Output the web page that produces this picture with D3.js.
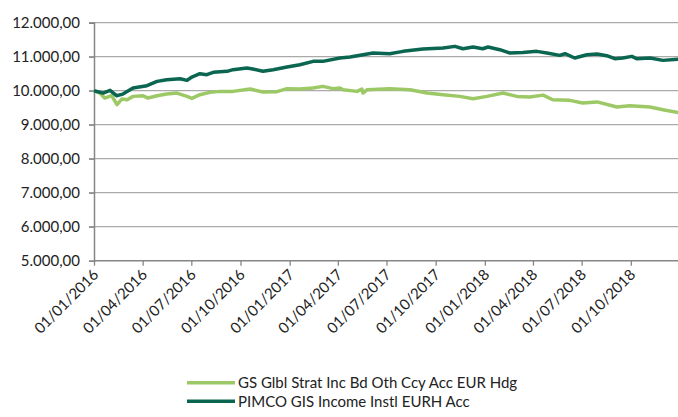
<!DOCTYPE html>
<html><head><meta charset="utf-8">
<script src="https://cdn.jsdelivr.net/npm/d3@7"></script>
<style>body{margin:0;background:#fff}svg{display:block}text{font-family:Lato,"Open Sans",sans-serif;fill:#222}</style>
</head><body><svg id="c" width="678" height="417"></svg>
<script>
const seriesNames = ["GS Glbl Strat Inc Bd Oth Ccy Acc EUR Hdg", "PIMCO GIS Income Instl EURH Acc"];
const seriesColors = ["#9cc965", "#0a6650"];
const yTicks = [5000, 6000, 7000, 8000, 9000, 10000, 11000, 12000];
const xTickDates = ["2016-01-01","2016-04-01","2016-07-01","2016-10-01","2017-01-01","2017-04-01","2017-07-01","2017-10-01","2018-01-01","2018-04-01","2018-07-01","2018-10-01"];

const gsDates = ["2016-01-01","2016-01-12","2016-01-21","2016-02-03","2016-02-13","2016-02-22","2016-03-03","2016-03-14","2016-04-01","2016-04-11","2016-04-28","2016-05-16","2016-06-04","2016-06-23","2016-07-02","2016-07-17","2016-08-05","2016-08-23","2016-09-17","2016-10-19","2016-11-12","2016-12-08","2016-12-27","2017-01-20","2017-02-14","2017-03-04","2017-03-23","2017-04-05","2017-04-11","2017-05-07","2017-05-16","2017-05-18","2017-05-26","2017-07-07","2017-08-14","2017-09-15","2017-10-15","2017-11-15","2017-12-10","2018-01-05","2018-02-04","2018-03-02","2018-03-26","2018-04-20","2018-05-08","2018-06-09","2018-07-03","2018-07-30","2018-09-05","2018-09-29","2018-11-06","2018-11-30","2018-12-31"];
const gsValues = [10000,9930,9784,9853,9588,9755,9735,9833,9853,9784,9853,9902,9931,9833,9774,9882,9951,9980,9980,10049,9961,9971,10059,10049,10078,10127,10060,10080,10029,9980,10049,9931,10029,10060,10029,9931,9882,9833,9765,9833,9931,9833,9814,9870,9735,9716,9640,9670,9520,9559,9520,9441,9350];

const pimcoDates = ["2016-01-01","2016-01-18","2016-01-31","2016-02-12","2016-02-24","2016-03-14","2016-04-09","2016-04-28","2016-05-16","2016-06-10","2016-06-23","2016-07-02","2016-07-17","2016-07-30","2016-08-11","2016-09-06","2016-09-17","2016-10-13","2016-10-24","2016-11-12","2016-12-01","2016-12-27","2017-01-20","2017-02-14","2017-03-04","2017-04-05","2017-04-24","2017-06-06","2017-07-07","2017-08-01","2017-09-07","2017-10-15","2017-11-06","2017-11-21","2017-12-10","2017-12-28","2018-01-07","2018-01-29","2018-02-17","2018-03-13","2018-04-08","2018-04-27","2018-05-21","2018-05-31","2018-06-18","2018-07-11","2018-07-30","2018-08-17","2018-09-01","2018-09-16","2018-10-03","2018-10-12","2018-11-06","2018-11-30","2018-12-31"];
const pimcoValues = [10000,9930,10010,9853,9900,10078,10147,10274,10323,10353,10303,10402,10500,10470,10540,10570,10618,10667,10637,10570,10618,10696,10765,10863,10863,10961,10990,11108,11088,11157,11226,11255,11304,11235,11284,11235,11284,11206,11108,11127,11157,11108,11039,11088,10961,11059,11079,11030,10941,10961,11010,10941,10961,10892,10931];

const svg = d3.select("#c");
const parse = d3.timeParse("%Y-%m-%d");
const x = d3.scaleTime().domain([parse("2016-01-01"), parse("2019-01-01")]).range([94, 680]);
const y = d3.scaleLinear().domain([5000, 12000]).range([260.7, 22.7]);
const fmt = v => d3.format(",.2f")(v).replace(/,/g, "#").replace(".", ",").replace(/#/g, ".");

// gridlines
svg.append("g").selectAll("line").data(yTicks.filter(v => v > 5000)).join("line")
  .attr("x1", 89).attr("x2", 678).attr("y1", d => y(d)).attr("y2", d => y(d))
  .attr("stroke", "#aaaaaa").attr("stroke-width", 1.3);

// y axis
const yAxis = svg.append("g").attr("transform", "translate(94,0)")
  .call(d3.axisLeft(y).tickValues(yTicks).tickSize(5).tickPadding(9).tickFormat(fmt));
yAxis.select(".domain").attr("stroke", "#868686").attr("stroke-width", 1.5);
yAxis.selectAll(".tick line").attr("stroke", "#868686").attr("stroke-width", 1.3);
yAxis.selectAll("text").style("font-size", "15px").attr("fill", "#222");

// x axis
const xAxis = svg.append("g").attr("transform", "translate(0,260.7)")
  .call(d3.axisBottom(x).tickValues(xTickDates.map(parse)).tickSize(5).tickFormat(d3.timeFormat("%d/%m/%Y")));
xAxis.select(".domain").attr("stroke", "#868686").attr("stroke-width", 1.5).attr("d", "M94,0H678");
xAxis.selectAll(".tick line").attr("stroke", "#868686").attr("stroke-width", 1.3);
xAxis.selectAll("text").style("font-size", "15px").attr("fill", "#222")
  .attr("text-anchor", "end").attr("dy", null).attr("y", 0)
  .attr("transform", "translate(5,15) rotate(-45)");

// lines
const line = d3.line().x(d => x(d[0])).y(d => y(d[1]));
const series = [
  gsDates.map((d, i) => [parse(d), gsValues[i]]),
  pimcoDates.map((d, i) => [parse(d), pimcoValues[i]])
];
svg.append("g").selectAll("path").data(series).join("path")
  .attr("d", line).attr("fill", "none")
  .attr("stroke", (d, i) => seriesColors[i]).attr("stroke-width", 3.5)
  .attr("stroke-linejoin", "round");

// legend
const leg = svg.append("g").selectAll("g").data(seriesNames).join("g")
  .attr("transform", (d, i) => `translate(187,${382.7 + i * 18.5})`);
leg.append("line").attr("x1", 0).attr("x2", 48).attr("stroke", (d, i) => seriesColors[i]).attr("stroke-width", 3.5);
leg.append("text").attr("x", 51).attr("y", 5.5).style("font-size", "15px").text(d => d);
</script></body></html>
